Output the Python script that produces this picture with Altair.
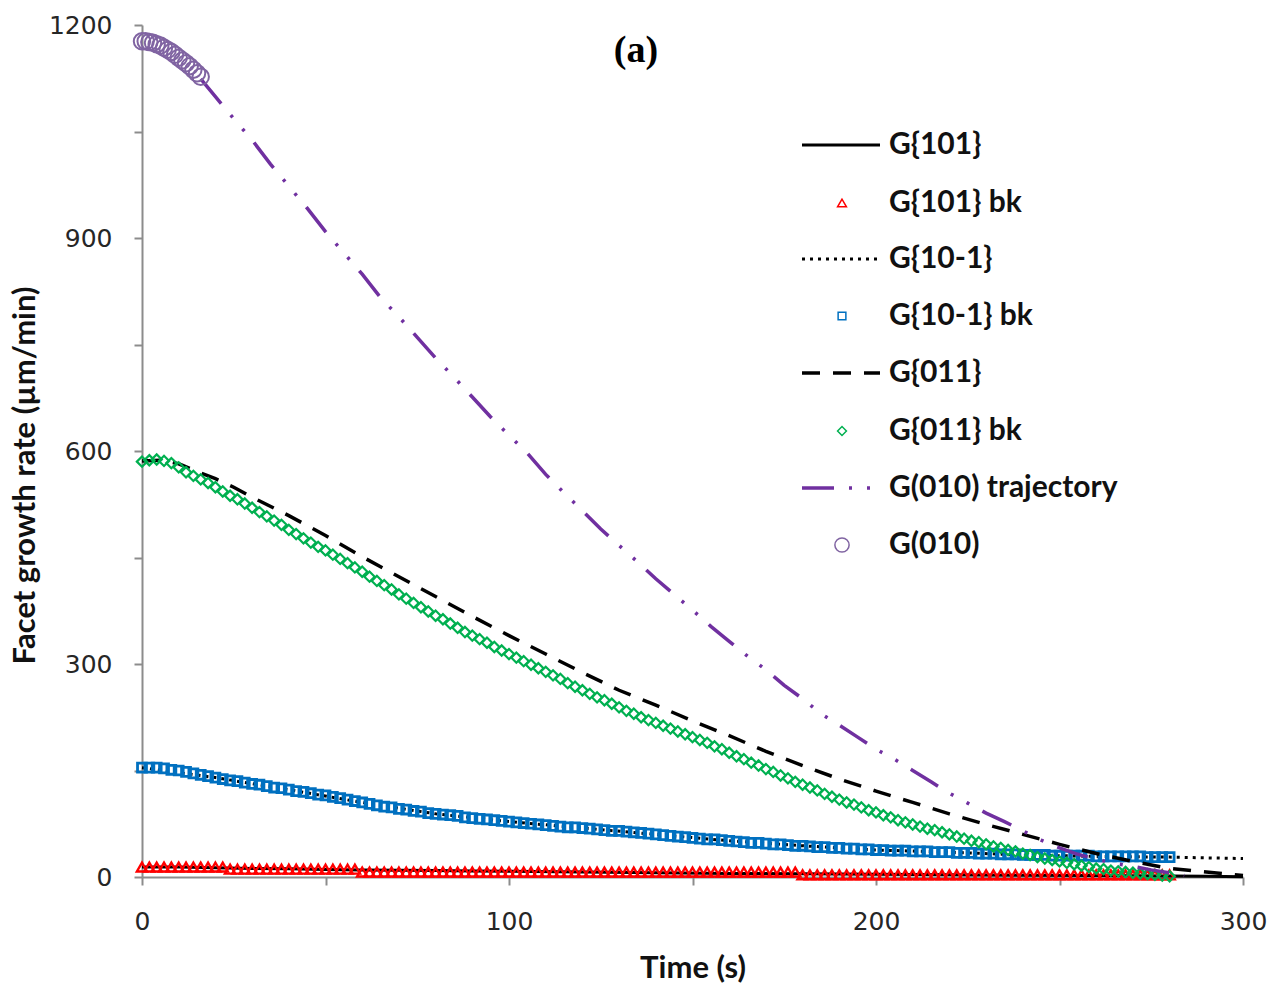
import altair as alt
import pandas as pd

# ---- measured facet growth rates ("bk"), sampled every 2 s from 0 to 280 s ----
time_bk = list(range(0, 281, 2))

g101_bk = [
    14, 14, 14, 14, 14, 14, 14, 14, 14, 14, 14, 14,
    11, 11, 11, 11, 11, 11, 11, 11, 11, 11, 11, 11, 11, 11, 11, 11, 11, 11,
    7, 7, 7, 7, 7, 7, 7, 7, 7, 7, 7, 7, 7, 7, 7, 7, 7, 7, 7, 7,
    7, 7, 7, 7, 7, 7, 7, 7, 7, 7, 7, 7, 7, 7, 7, 7, 7, 7, 7, 7,
    7, 7, 7, 7, 7, 7, 7, 7, 7, 7, 7, 7, 7, 7, 7, 7, 7, 7, 7, 7,
    3, 3, 3, 3, 3, 3, 3, 3, 3, 3, 3, 3, 3, 3, 3, 3, 3, 3, 3, 3,
    3, 3, 3, 3, 3, 3, 3, 3, 3, 3, 3, 3, 3, 3, 3, 3, 3, 3, 3, 3,
    3, 3, 3, 3, 3, 3, 3, 3, 3, 3, 3,
]

g10m1_bk = [
    154, 154, 154, 153, 151, 150, 148, 146, 144, 142, 140, 138, 136, 135, 133,
    131, 130, 128, 126, 125, 123, 121, 120, 118, 116, 115, 113, 111, 109, 107,
    105, 103, 101, 99, 98, 96, 95, 93, 92, 90, 89, 88, 87, 86, 84,
    83, 82, 81, 80, 79, 78, 77, 76, 75, 74, 73, 72, 71, 70, 70,
    69, 68, 67, 66, 65, 65, 64, 63, 62, 61, 60, 59, 58, 57, 56,
    55, 54, 53, 53, 52, 51, 50, 49, 48, 48, 47, 46, 46, 45, 44,
    44, 43, 42, 42, 41, 41, 40, 40, 39, 39, 38, 38, 37, 37, 37,
    36, 36, 36, 35, 35, 35, 34, 34, 34, 33, 33, 33, 32, 32, 32,
    31, 31, 31, 31, 30, 30, 30, 30, 30, 30, 29, 29, 29, 29, 29,
    29, 29, 28, 28, 28, 28,
]

g011_bk = [
    585, 587, 588, 586, 583, 577, 570, 565, 560, 555, 549, 543, 537, 532, 526,
    520, 514, 508, 502, 496, 489, 483, 477, 471, 465, 460, 454, 448, 442, 436,
    430, 423, 417, 411, 405, 398, 392, 386, 380, 374, 368, 363, 357, 351, 345,
    340, 335, 330, 324, 319, 314, 309, 304, 299, 294, 289, 284, 279, 273, 268,
    263, 258, 253, 249, 244, 239, 234, 230, 225, 221, 217, 213, 209, 205, 201,
    197, 193, 189, 184, 180, 175, 170, 166, 161, 157, 152, 148, 143, 139, 134,
    130, 126, 122, 117, 113, 109, 105, 102, 98, 94, 91, 87, 84, 80, 77,
    74, 71, 68, 66, 63, 60, 57, 54, 51, 49, 46, 43, 41, 38, 36,
    33, 31, 28, 26, 24, 22, 20, 18, 16, 14, 12, 11, 9, 8, 7,
    6, 5, 4, 3, 2, 1,
]

# ---- G(010) measured at the start of growth ----
time_010 = [0, 1, 2, 3, 4, 5, 6, 7, 8, 9, 10, 11, 12, 13, 14, 15, 16]
g010 = [1177, 1177, 1176, 1175, 1173, 1171, 1168, 1165, 1162, 1158, 1154,
        1150, 1146, 1142, 1137, 1132, 1127]

# ---- model curves ----
time_g101 = [0, 10, 20, 30, 40, 50, 60, 70, 80, 90, 100, 120, 140, 160, 180,
             200, 220, 240, 260, 280, 290, 300]
g101 = [14, 14, 13, 12, 11.5, 10.5, 10, 9.5, 9, 8.5, 8, 7, 6, 5, 4.5,
        4, 3, 2.5, 2, 1.5, 1, 0.5]

time_g10m1 = [0, 20, 40, 60, 80, 100, 120, 140, 160, 180, 200, 220, 240, 260,
              280, 290, 300]
g10m1 = [154, 140, 123, 105, 89, 78, 69, 60, 51, 44, 38, 35, 31, 29, 28, 27, 26]

time_g011 = [0, 5, 10, 15, 20, 25, 30, 40, 50, 60, 70, 80, 90, 100, 110, 120,
             130, 140, 150, 160, 170, 180, 190, 200, 210, 220, 230, 240, 250,
             260, 270, 280, 290, 300]
g011 = [586, 587, 582, 571, 561, 549, 535, 509, 481, 451, 423, 395, 367, 340,
        314, 288, 263, 242, 220, 199, 177, 157, 138, 121, 105, 89, 74, 60, 46,
        33, 22, 12, 7, 2]

time_traj = [16, 20, 25, 30, 35, 40, 45, 50, 55, 60, 65, 70, 75, 80, 85, 90,
             95, 100, 105, 110, 115, 120, 125, 130, 135, 140, 145, 150, 155,
             160, 165, 170, 175, 180, 185, 190, 195, 200, 205, 210, 215, 220,
             225, 230, 235, 240, 245, 250, 255, 260, 265, 270, 275, 280, 284]
g010_traj = [1124, 1099, 1068, 1038, 1004, 973, 942, 909, 879, 849, 816, 789,
             760, 731, 704, 676, 648, 622, 597, 567, 541, 516, 490, 467, 444,
             420, 398, 376, 353, 332, 311, 292, 270, 251, 230, 214, 197, 180,
             166, 150, 134, 118, 104, 90, 78, 65, 52, 41, 32, 25, 19, 15, 10,
             6, 2]

legend_labels = ["G{101}", "G{101} bk", "G{10-1}", "G{10-1} bk", "G{011}",
                 "G{011} bk", "G(010) trajectory", "G(010)"]

# ---- styling ----
BLACK = "#000000"
RED = "#FF0000"
BLUE = "#0070C0"
GREEN = "#00B050"
PURPLE = "#7030A0"
LAVENDER = "#8064A2"

W, H = 1101, 852

x_scale = alt.Scale(domain=[0, 300], nice=False, zero=False)
y_scale = alt.Scale(domain=[0, 1200], nice=False, zero=False)

x_axis = alt.Axis(
    values=[0, 50, 100, 150, 200, 250, 300],
    labelExpr="datum.value % 100 === 0 ? datum.label : ''",
    format="d",
    title="Time (s)",
    titleY=91,
    titleBaseline="middle",
    labelPadding=24,
)
y_axis = alt.Axis(
    values=[0, 150, 300, 450, 600, 750, 900, 1050, 1200],
    labelExpr="datum.value % 300 === 0 ? datum.label : ''",
    format="d",
    title="Facet growth rate (µm/min)",
    titleAngle=270,
    titleX=-117,
    titleY=450,
    titleAlign="center",
    titleBaseline="middle",
    labelPadding=22,
)


def frame(t, v):
    return pd.DataFrame({"t": t, "v": v})


def enc():
    return dict(
        x=alt.X("t:Q", scale=x_scale, axis=x_axis),
        y=alt.Y("v:Q", scale=y_scale, axis=y_axis),
    )


def line(t, v, color, width, dash=None):
    kw = dict(color=color, strokeWidth=width, strokeCap="butt", clip=False)
    if dash is not None:
        kw["strokeDash"] = dash
    return alt.Chart(frame(t, v)).mark_line(**kw).encode(**enc())


def points(t, v, color, shape, size, width):
    return alt.Chart(frame(t, v)).mark_point(
        shape=shape, color=color, size=size, filled=False, strokeWidth=width,
        opacity=1,
    ).encode(**enc())


DASH_011 = [18, 13]
DOT_10M1 = [3, 5]
DASH_TRAJ = [32, 15, 3, 15, 3, 15]

RED_MK = dict(shape="triangle-up", size=105, width=2.4)
BLUE_MK = dict(shape="square", size=80, width=2.8)
GREEN_MK = dict(shape="diamond", size=105, width=2.2)
CIRC_MK = dict(shape="circle", size=270, width=2)

layers = [
    line(time_g101, g101, BLACK, 3),
    points(time_bk, g101_bk, RED, **RED_MK),
    line(time_g10m1, g10m1, BLACK, 3, DOT_10M1),
    points(time_bk, g10m1_bk, BLUE, **BLUE_MK),
    line(time_g011, g011, BLACK, 3.5, DASH_011),
    points(time_bk, g011_bk, GREEN, **GREEN_MK),
    line(time_traj, g010_traj, PURPLE, 3.5, DASH_TRAJ),
    points(time_010, g010, LAVENDER, **CIRC_MK),
]

# ---- legend (drawn in pixel space, right side of the plot) ----
legend_y = [120, 178, 234, 291, 348, 406, 463, 520]
LX0, LX1, LMID, LTXT = 660, 738, 700, 747


def legend_line(row, color, width, dash=None):
    kw = dict(color=color, strokeWidth=width, strokeCap="butt")
    if dash is not None:
        kw["strokeDash"] = dash
    return alt.Chart(pd.DataFrame({"r": [row]})).mark_rule(**kw).encode(
        x=alt.value(LX0), x2=alt.value(LX1), y=alt.value(legend_y[row])
    )


def legend_point(row, color, shape, size, width):
    return alt.Chart(pd.DataFrame({"r": [row]})).mark_point(
        shape=shape, color=color, size=size * 0.75, filled=False,
        strokeWidth=min(width, 2) * 0.75, opacity=1,
    ).encode(x=alt.value(LMID), y=alt.value(legend_y[row]))


layers += [
    legend_line(0, BLACK, 3),
    legend_point(1, RED, **RED_MK),
    legend_line(2, BLACK, 3, DOT_10M1),
    legend_point(3, BLUE, **BLUE_MK),
    legend_line(4, BLACK, 3.5, DASH_011),
    legend_point(5, GREEN, **GREEN_MK),
    legend_line(6, PURPLE, 3.5, DASH_TRAJ),
    legend_point(7, LAVENDER, **CIRC_MK),
]

legend_text = alt.Chart(
    pd.DataFrame({"label": legend_labels, "ly": legend_y})
).mark_text(
    align="left", baseline="middle", font="Lato", fontWeight="bold",
    fontSize=30, color="#111111",
).encode(
    x=alt.value(LTXT),
    y=alt.Y("ly:Q", scale=None),
    text="label:N",
)
layers.append(legend_text)

panel_tag = alt.Chart(pd.DataFrame({"s": ["(a)"]})).mark_text(
    font="Liberation Serif", fontWeight="bold", fontSize=38, align="center",
    baseline="alphabetic", color="#000000",
).encode(x=alt.value(494), y=alt.value(37), text="s:N")
layers.append(panel_tag)

chart = alt.layer(*layers).properties(
    width=W,
    height=H,
    autosize=alt.AutoSizeParams(type="none"),
    padding={"left": 142, "top": 25, "right": 36, "bottom": 112},
    background="white",
).configure_view(stroke=None).configure_axis(
    grid=False,
    domainColor="#8c8c8c",
    domainWidth=2,
    tickColor="#8c8c8c",
    tickWidth=2,
    tickSize=8,
    labelFont="DejaVu Sans",
    labelFontSize=25,
    labelColor="#262626",
    titleFont="Lato",
    titleFontWeight="bold",
    titleFontSize=31,
    titleColor="#111111",
    labelOverlap=False,
    labelFlush=False,
)

chart.save("out.html", embed_options={"renderer": "svg", "actions": False})
